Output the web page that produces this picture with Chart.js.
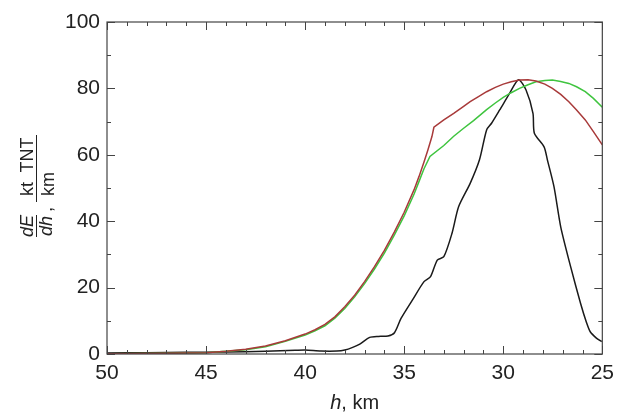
<!DOCTYPE html>
<html><head><meta charset="utf-8">
<script src="https://cdn.jsdelivr.net/npm/chart.js@4"></script>
<style>html,body{margin:0;padding:0;background:#fff}#c{display:block}</style>
</head><body>
<div style="width:621px;height:414px"><canvas id="c" width="621" height="414"></canvas></div>
<script>
const xTicks = [50, 45, 40, 35, 30, 25];
const yTicks = [0, 20, 40, 60, 80, 100];

const hBlack = [50, 48, 46, 44, 42, 40.5, 40, 39.2, 38.4, 38, 37.6, 37.24, 36.74, 36.3, 35.82, 35.49, 35.16, 34.58, 34.0, 33.67, 33.33, 33.0, 32.59, 32.25, 31.67, 31.2, 30.84, 30.59, 30.18, 29.68, 29.23, 28.85, 28.5, 28.43, 27.94, 27.77, 27.44, 27.1, 26.6, 26.1, 25.8, 25.61, 25.3, 25.03];
const eBlack = [0.3, 0.4, 0.5, 0.6, 0.8, 1.1, 1.2, 0.9, 0.9, 1.2, 2.0, 3.0, 5.0, 5.3, 5.4, 6.4, 10.7, 16.3, 21.8, 23.3, 28.3, 29.3, 36.3, 44.4, 51.4, 58.5, 67.5, 69.5, 73.5, 78.5, 82.6, 79.5, 72.5, 66.5, 62.4, 58.4, 50.4, 38.3, 26.3, 15.3, 9.5, 6.7, 4.8, 3.7];

const hRed = [50, 47, 45, 44, 43, 42, 41, 40, 39.5, 39, 38.5, 38, 37.5, 37, 36.5, 36, 35.5, 35, 34.5, 34.25, 34, 33.8, 33.6, 33.5, 33, 32.5, 32, 31.67, 31.25, 30.84, 30.4, 30.0, 29.6, 29.18, 28.75, 28.35, 27.9, 27.52, 27.1, 26.69, 26.3, 25.86, 25.45, 25];
const eRed = [0.1, 0.2, 0.4, 0.8, 1.4, 2.4, 4.0, 6.0, 7.3, 8.9, 11.2, 14.2, 17.7, 21.8, 26.3, 31.2, 36.7, 42.7, 49.5, 53.5, 57.8, 61.5, 65.5, 68.3, 70.5, 72.5, 74.6, 76.0, 77.5, 79.0, 80.3, 81.3, 82.0, 82.5, 82.6, 82.2, 81.3, 80.0, 78.2, 76.0, 73.5, 70.5, 67.0, 63.0];

const hGreen = [50, 47, 45, 44, 43, 42, 41, 40, 39.5, 39, 38.5, 38, 37.5, 37, 36.5, 36, 35.5, 35, 34.5, 34.25, 34, 33.7, 33, 32.5, 32, 31.5, 30.84, 30.4, 30, 29.6, 29.18, 28.75, 28.35, 27.9, 27.52, 27.1, 26.69, 26.3, 25.86, 25.45, 25];
const eGreen = [0.1, 0.2, 0.4, 0.8, 1.3, 2.2, 3.8, 5.7, 7.0, 8.5, 10.8, 13.7, 17.2, 21.2, 25.6, 30.4, 35.8, 41.6, 48.2, 52.0, 55.8, 59.5, 62.8, 65.6, 68.0, 70.3, 73.6, 75.6, 77.3, 78.7, 80.0, 81.1, 82.0, 82.4, 82.5, 82.1, 81.5, 80.5, 79.0, 77.0, 74.3];

const pts = (xs, ys) => xs.map((x, i) => ({x: x, y: ys[i]}));
const FONT = '"Liberation Sans", Arial, sans-serif';

const framePlugin = {
  id: 'frame',
  afterDraw(chart) {
    const ctx = chart.ctx, a = chart.chartArea;
    const xs = chart.scales.x, ys = chart.scales.y;
    ctx.save();
    ctx.strokeStyle = '#444';
    ctx.lineWidth = 1.2;
    ctx.strokeRect(a.left, a.top, a.right - a.left, a.bottom - a.top);
    ctx.lineWidth = 1;
    ctx.beginPath();
    for (let v = 25; v <= 50; v += 1) {
      const px = Math.round(xs.getPixelForValue(v)) + 0.5;
      const L = (v % 5 === 0) ? 8 : 4;
      ctx.moveTo(px, a.bottom); ctx.lineTo(px, a.bottom - L);
      ctx.moveTo(px, a.top); ctx.lineTo(px, a.top + L);
    }
    for (let v = 0; v <= 100; v += 10) {
      const py = Math.round(ys.getPixelForValue(v)) + 0.5;
      const L = (v % 20 === 0) ? 8 : 4;
      ctx.moveTo(a.left, py); ctx.lineTo(a.left + L, py);
      ctx.moveTo(a.right, py); ctx.lineTo(a.right - L, py);
    }
    ctx.stroke();

    // x title: "h, km"
    ctx.fillStyle = '#222';
    ctx.textBaseline = 'alphabetic';
    ctx.textAlign = 'left';
    const cx = (a.left + a.right) / 2;
    ctx.font = 'italic 20px ' + FONT;
    const wH = ctx.measureText('h').width;
    ctx.font = '20px ' + FONT;
    const wR = ctx.measureText(', km').width;
    let sx = cx - (wH + wR) / 2;
    ctx.font = 'italic 20px ' + FONT;
    ctx.fillText('h', sx, 409);
    ctx.font = '20px ' + FONT;
    ctx.fillText(', km', sx + wH, 409);

    // y title: dE/dh, kt TNT / km  (rotated)
    ctx.save();
    ctx.translate(36, 190);
    ctx.rotate(-Math.PI / 2);
    ctx.strokeStyle = '#222';
    ctx.lineWidth = 1;
    ctx.beginPath();
    ctx.moveTo(-47, 0.5); ctx.lineTo(-25, 0.5);
    ctx.moveTo(-12, 0.5); ctx.lineTo(55, 0.5);
    ctx.stroke();
    ctx.textAlign = 'center';
    ctx.font = 'italic 18px ' + FONT;
    ctx.textBaseline = 'alphabetic';
    ctx.fillText('dE', -36, -3);
    ctx.textBaseline = 'top';
    ctx.fillText('dh', -36, 2);
    ctx.font = '18px ' + FONT;
    ctx.textBaseline = 'alphabetic';
    ctx.fillText('kt', 1, -3);
    ctx.fillText('TNT', 35, -3);
    ctx.textBaseline = 'top';
    ctx.fillText('km', 6, 4);
    ctx.textAlign = 'left';
    ctx.fillText(',', -22, 2);
    ctx.restore();
    ctx.restore();
  }
};

new Chart(document.getElementById('c'), {
  type: 'line',
  data: {
    datasets: [
      {data: pts(hRed, eRed), borderColor: '#a83a3a', borderWidth: 1.5, tension: 0},
      {data: pts(hGreen, eGreen), borderColor: '#3fc43f', borderWidth: 1.5, tension: 0},
      {data: pts(hBlack, eBlack), borderColor: '#1a1a1a', borderWidth: 1.5, tension: 0.25}
    ]
  },
  options: {
    responsive: false,
    animation: false,
    events: [],
    parsing: false,
    elements: {point: {radius: 0}, line: {fill: false}},
    layout: {padding: {top: 22, right: 12, left: 0, bottom: 0}},
    plugins: {legend: {display: false}, tooltip: {enabled: false}, title: {display: false}},
    scales: {
      x: {
        type: 'linear', min: 25, max: 50, reverse: true,
        afterFit(s) { s.height = 60; },
        afterBuildTicks(s) { s.ticks = xTicks.map(v => ({value: v})); },
        grid: {display: false, drawTicks: false},
        border: {display: false},
        ticks: {padding: 7, color: '#222', font: {family: FONT, size: 21}, maxRotation: 0, autoSkip: false}
      },
      y: {
        type: 'linear', min: 0, max: 100,
        afterFit(s) { s.width = 107; },
        afterBuildTicks(s) { s.ticks = yTicks.map(v => ({value: v})); },
        grid: {display: false, drawTicks: false},
        border: {display: false},
        ticks: {padding: 7, color: '#222', font: {family: FONT, size: 21}, autoSkip: false}
      }
    }
  },
  plugins: [framePlugin]
});
</script>
</body></html>
